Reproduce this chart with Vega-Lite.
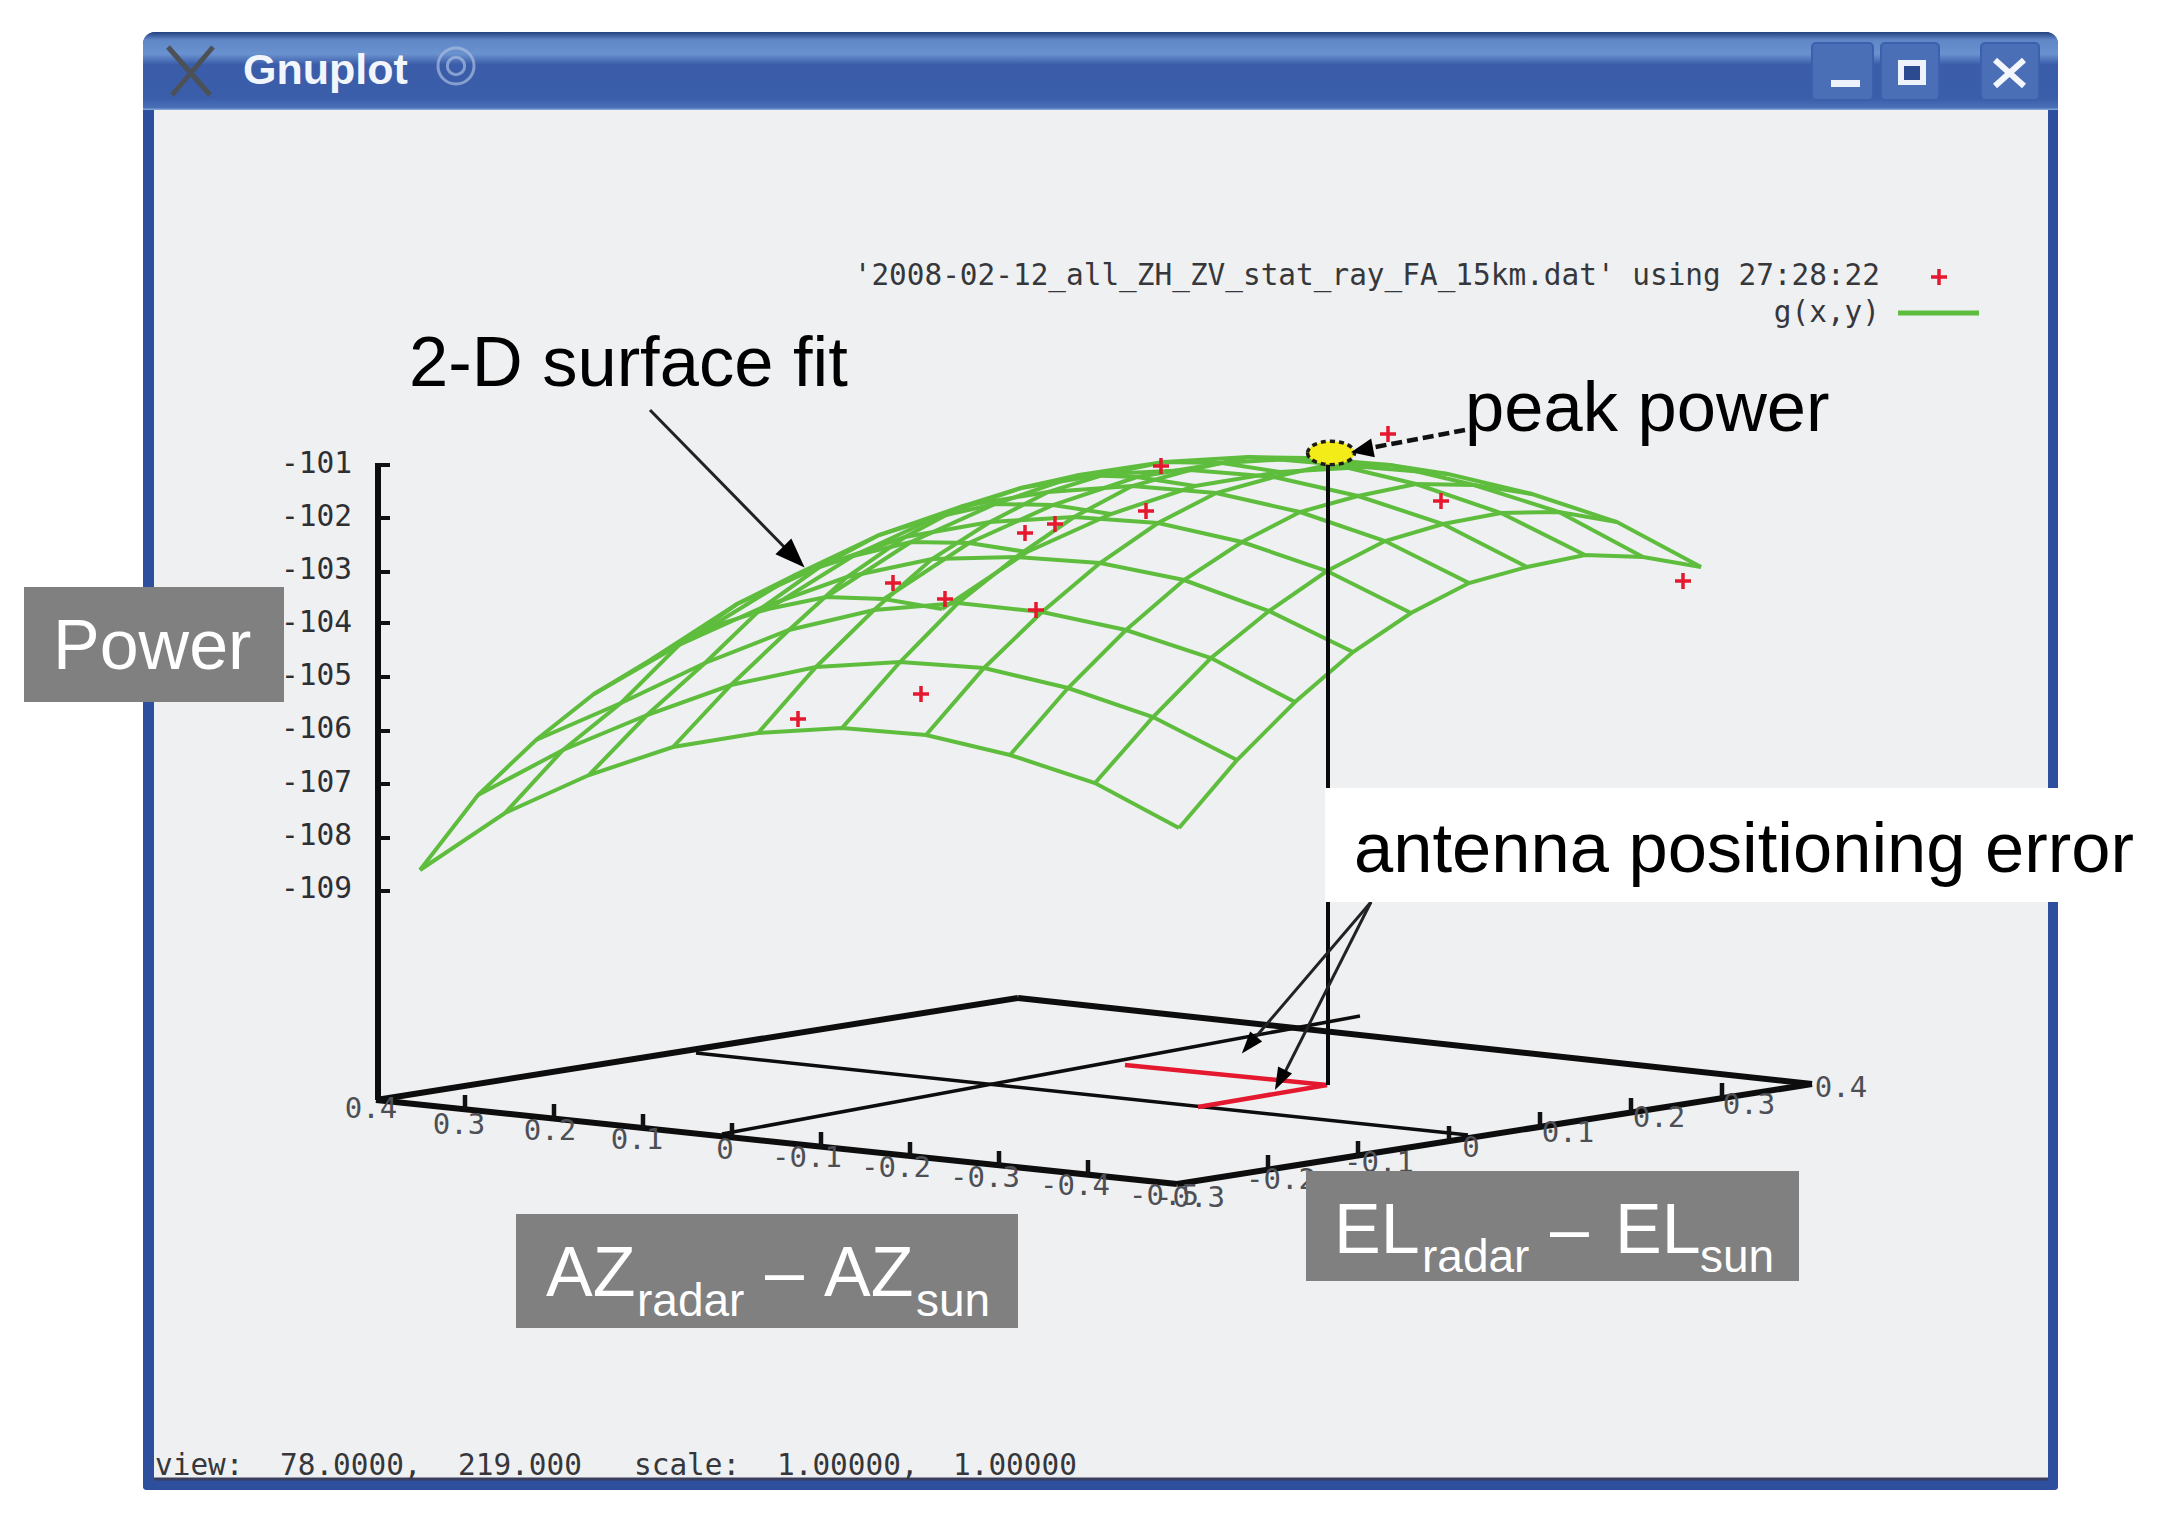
{"$schema":"https://vega.github.io/schema/vega-lite/v6.json","width":2160,"height":1520,"padding":0,"autosize":{"type":"fit","contains":"padding"},"background":"#ffffff","config":{"view":{"stroke":null}},
"encoding":{"x":{"field":"x","type":"quantitative","scale":{"domain":[0,216],"nice":false,"zero":false},"axis":null},"y":{"field":"y","type":"quantitative","scale":{"domain":[152,0],"nice":false,"zero":false},"axis":null}},
"layer":[
{"data":{"values":[{"x":14.3,"x2":205.8,"y":3.2,"y2":149}]},"mark":{"type":"rect","color":"#2e4f9d","cornerRadiusTopLeft":12,"cornerRadiusTopRight":12,"cornerRadius":3},"encoding":{"x2":{"field":"x2"},"y2":{"field":"y2"}}},
{"data":{"values":[{"x":15.4,"x2":204.8,"y":11,"y2":147.9}]},"mark":{"type":"rect","color":"#eff0f2"},"encoding":{"x2":{"field":"x2"},"y2":{"field":"y2"}}},
{"data":{"values":[{"x":14.3,"x2":205.8,"y":3.2,"y2":11}]},"mark":{"type":"rect","cornerRadiusTopLeft":12,"cornerRadiusTopRight":12,"color":{"gradient":"linear","x1":0,"y1":0,"x2":0,"y2":1,"stops":[{"offset":0,"color":"#23407f"},{"offset":0.1,"color":"#5f86c6"},{"offset":0.28,"color":"#6a92cf"},{"offset":0.42,"color":"#3a5ca9"},{"offset":0.85,"color":"#3b5eab"},{"offset":0.97,"color":"#4a70b8"},{"offset":1,"color":"#8fb0dc"}]}},"encoding":{"x2":{"field":"x2"},"y2":{"field":"y2"}}},
{"data":{"values":[{"x":15.4,"x2":204.8,"y":147.9,"y2":147.9}]},"mark":{"type":"rule","color":"#3a3f5e","strokeWidth":3},"encoding":{"x2":{"field":"x2"},"y2":{"field":"y2"}}},
{"data":{"values":[{"x":181.2,"x2":187.3,"y":4.3,"y2":10},{"x":188.1,"x2":193.9,"y":4.3,"y2":10},{"x":198.1,"x2":203.9,"y":4.3,"y2":10}]},"mark":{"type":"rect","color":"#4a6fb6","stroke":"#3d60ac","strokeWidth":2,"cornerRadius":4},"encoding":{"x2":{"field":"x2"},"y2":{"field":"y2"}}},
{"data":{"values":[{"x":183.1,"x2":186,"y":8,"y2":8.7},{"x":189.8,"x2":192.6,"y":6,"y2":8.5}]},"mark":{"type":"rect","color":"#eef2fa"},"encoding":{"x2":{"field":"x2"},"y2":{"field":"y2"}}},
{"data":{"values":[{"x":190.4,"x2":192,"y":6.6,"y2":8}]},"mark":{"type":"rect","color":"#2c4a90"},"encoding":{"x2":{"field":"x2"},"y2":{"field":"y2"}}},
{"data":{"values":[{"x":199.5,"x2":202.4,"y":6,"y2":8.6},{"x":202.4,"x2":199.5,"y":6,"y2":8.6}]},"mark":{"type":"rule","color":"#f3f6fb","strokeWidth":6},"encoding":{"x2":{"field":"x2"},"y2":{"field":"y2"}}},
{"data":{"values":[{"x":16.8,"x2":21,"y":4.7,"y2":9.5},{"x":21.3,"x2":17.2,"y":4.7,"y2":9.5}]},"mark":{"type":"rule","color":"#4c5158","strokeWidth":5},"encoding":{"x2":{"field":"x2"},"y2":{"field":"y2"}}},
{"data":{"values":[{"x":45.6,"y":6.6}]},"mark":{"type":"point","shape":"circle","size":1300,"color":"#a9bde0","strokeWidth":3,"filled":false}},
{"data":{"values":[{"x":45.6,"y":6.6}]},"mark":{"type":"point","shape":"circle","size":300,"color":"#a9bde0","strokeWidth":3,"filled":false}},
{"data":{"values":[{"x":24.3,"y":8.4,"t":"Gnuplot"}]},"mark":{"type":"text","font":"Liberation Sans","fontWeight":"bold","fontSize":43,"align":"left","baseline":"alphabetic","color":"#f2f5fb"},"encoding":{"text":{"field":"t"}}},

{"data":{"values":[
{"i":0,"j":0,"x":117.9,"y":82.8},{"i":0,"j":1,"x":123.7,"y":76},{"i":0,"j":2,"x":129.5,"y":70.2},{"i":0,"j":3,"x":135.3,"y":65.2},{"i":0,"j":4,"x":141.1,"y":61.3},{"i":0,"j":5,"x":146.9,"y":58.3},{"i":0,"j":6,"x":152.7,"y":56.7},{"i":0,"j":7,"x":158.5,"y":55.5},{"i":0,"j":8,"x":164.3,"y":55.7},{"i":0,"j":9,"x":170.1,"y":56.7},
{"i":1,"j":0,"x":109.5,"y":78.3},{"i":1,"j":1,"x":115.3,"y":71.7},{"i":1,"j":2,"x":121.1,"y":65.8},{"i":1,"j":3,"x":126.9,"y":61.1},{"i":1,"j":4,"x":132.7,"y":57.1},{"i":1,"j":5,"x":138.5,"y":54.1},{"i":1,"j":6,"x":144.3,"y":52.4},{"i":1,"j":7,"x":150.1,"y":51.3},{"i":1,"j":8,"x":155.9,"y":51.2},{"i":1,"j":9,"x":161.7,"y":52.2},
{"i":2,"j":0,"x":101,"y":75.5},{"i":2,"j":1,"x":106.8,"y":68.8},{"i":2,"j":2,"x":112.6,"y":63},{"i":2,"j":3,"x":118.4,"y":58},{"i":2,"j":4,"x":124.2,"y":54.2},{"i":2,"j":5,"x":130,"y":51.2},{"i":2,"j":6,"x":135.8,"y":49.6},{"i":2,"j":7,"x":141.6,"y":48.4},{"i":2,"j":8,"x":147.4,"y":48.5},{"i":2,"j":9,"x":153.2,"y":49.4},
{"i":3,"j":0,"x":92.6,"y":73.5},{"i":3,"j":1,"x":98.4,"y":66.8},{"i":3,"j":2,"x":104.2,"y":61.2},{"i":3,"j":3,"x":110,"y":56.3},{"i":3,"j":4,"x":115.8,"y":52.3},{"i":3,"j":5,"x":121.6,"y":49.3},{"i":3,"j":6,"x":127.4,"y":47.7},{"i":3,"j":7,"x":133.2,"y":46.4},{"i":3,"j":8,"x":139,"y":46.5},{"i":3,"j":9,"x":144.8,"y":47.4},
{"i":4,"j":0,"x":84.2,"y":72.8},{"i":4,"j":1,"x":90,"y":66.2},{"i":4,"j":2,"x":95.8,"y":60.3},{"i":4,"j":3,"x":101.6,"y":55.7},{"i":4,"j":4,"x":107.4,"y":51.7},{"i":4,"j":5,"x":113.2,"y":48.6},{"i":4,"j":6,"x":119,"y":47},{"i":4,"j":7,"x":124.8,"y":45.7},{"i":4,"j":8,"x":130.6,"y":45.8},{"i":4,"j":9,"x":136.4,"y":46.7},
{"i":5,"j":0,"x":75.8,"y":73.3},{"i":5,"j":1,"x":81.6,"y":66.7},{"i":5,"j":2,"x":87.4,"y":61},{"i":5,"j":3,"x":93.2,"y":55.9},{"i":5,"j":4,"x":99,"y":52.2},{"i":5,"j":5,"x":104.8,"y":49.2},{"i":5,"j":6,"x":110.6,"y":47.4},{"i":5,"j":7,"x":116.4,"y":46.2},{"i":5,"j":8,"x":122.2,"y":46.3},{"i":5,"j":9,"x":128,"y":47.2},
{"i":6,"j":0,"x":67.3,"y":74.7},{"i":6,"j":1,"x":73.1,"y":68.5},{"i":6,"j":2,"x":78.9,"y":63},{"i":6,"j":3,"x":84.7,"y":57.7},{"i":6,"j":4,"x":90.5,"y":53.7},{"i":6,"j":5,"x":96.3,"y":50.6},{"i":6,"j":6,"x":102.1,"y":48.8},{"i":6,"j":7,"x":107.9,"y":47.5},{"i":6,"j":8,"x":113.7,"y":47.7},{"i":6,"j":9,"x":119.5,"y":48.6},
{"i":7,"j":0,"x":58.9,"y":77.5},{"i":7,"j":1,"x":64.7,"y":71.5},{"i":7,"j":2,"x":70.5,"y":66.3},{"i":7,"j":3,"x":76.3,"y":60.7},{"i":7,"j":4,"x":82.1,"y":56.6},{"i":7,"j":5,"x":87.9,"y":53.5},{"i":7,"j":6,"x":93.7,"y":51.7},{"i":7,"j":7,"x":99.5,"y":50.4},{"i":7,"j":8,"x":105.3,"y":50.5},{"i":7,"j":9,"x":111.1,"y":51.4},
{"i":8,"j":0,"x":50.5,"y":81.3},{"i":8,"j":1,"x":56.3,"y":75},{"i":8,"j":2,"x":62.1,"y":70.3},{"i":8,"j":3,"x":67.9,"y":64.5},{"i":8,"j":4,"x":73.7,"y":60.4},{"i":8,"j":5,"x":79.5,"y":57.5},{"i":8,"j":6,"x":85.3,"y":55.6},{"i":8,"j":7,"x":91.1,"y":54.2},{"i":8,"j":8,"x":96.9,"y":54.3},{"i":8,"j":9,"x":102.7,"y":55.2},
{"i":9,"j":0,"x":42,"y":87},{"i":9,"j":1,"x":47.8,"y":79.5},{"i":9,"j":2,"x":53.6,"y":74},{"i":9,"j":3,"x":59.4,"y":69.4},{"i":9,"j":4,"x":65.2,"y":65.9},{"i":9,"j":5,"x":71,"y":62.7},{"i":9,"j":6,"x":76.8,"y":60.9},{"i":9,"j":7,"x":82.6,"y":59.7},{"i":9,"j":8,"x":88.4,"y":59.9},{"i":9,"j":9,"x":94.2,"y":60.9}
]},"layer":[
{"mark":{"type":"line","color":"#5fbd3e","strokeWidth":4},"encoding":{"detail":{"field":"i"},"order":{"field":"j"}}},
{"mark":{"type":"line","color":"#5fbd3e","strokeWidth":4},"encoding":{"detail":{"field":"j"},"order":{"field":"i"}}}
]},

{"data":{"values":[{"x":79.8,"y":71.9},{"x":92.1,"y":69.4},{"x":89.3,"y":58.3},{"x":94.5,"y":59.9},{"x":103.6,"y":61},{"x":102.5,"y":53.3},{"x":105.5,"y":52.4},{"x":114.6,"y":51.1},{"x":116.1,"y":46.6},{"x":138.8,"y":43.4},{"x":144.1,"y":50.1},{"x":168.3,"y":58.1},{"x":193.9,"y":27.7}]},"mark":{"type":"point","shape":"M-1,0H1M0,-1V1","size":256,"filled":false,"color":"#e4182e","strokeWidth":3.5,"opacity":1}},
{"data":{"values":[{"x":189.8,"x2":197.9,"y":31.3,"y2":31.3}]},"mark":{"type":"rule","color":"#5fbd3e","strokeWidth":5},"encoding":{"x2":{"field":"x2"},"y2":{"field":"y2"}}},

{"data":{"values":[{"x":37.6,"x2":101.8,"y":110,"y2":99.8},{"x":101.8,"x2":181.2,"y":99.8,"y2":108.4},{"x":37.6,"x2":117.7,"y":110,"y2":118.4},{"x":117.7,"x2":181.2,"y":118.4,"y2":108.4},{"x":37.8,"x2":37.8,"y":46.3,"y2":110}]},"mark":{"type":"rule","color":"#0d0d0d","strokeWidth":6},"encoding":{"x2":{"field":"x2"},"y2":{"field":"y2"}}},
{"data":{"values":[{"x":69.6,"x2":146.8,"y":105.3,"y2":113.5},{"x":72.2,"x2":136,"y":113.4,"y2":101.6}]},"mark":{"type":"rule","color":"#0d0d0d","strokeWidth":3.5},"encoding":{"x2":{"field":"x2"},"y2":{"field":"y2"}}},
{"data":{"values":[{"x":132.7,"x2":112.5,"y":108.5,"y2":106.5},{"x":132.7,"x2":119.8,"y":108.5,"y2":110.7}]},"mark":{"type":"rule","color":"#e4182e","strokeWidth":4.5},"encoding":{"x2":{"field":"x2"},"y2":{"field":"y2"}}},
{"data":{"values":[{"x":37.8,"x2":39,"y":46.5,"y2":46.5},{"x":37.8,"x2":39,"y":51.8,"y2":51.8},{"x":37.8,"x2":39,"y":57.2,"y2":57.2},{"x":37.8,"x2":39,"y":62.3,"y2":62.3},{"x":37.8,"x2":39,"y":67.7,"y2":67.7},{"x":37.8,"x2":39,"y":73.1,"y2":73.1},{"x":37.8,"x2":39,"y":78.4,"y2":78.4},{"x":37.8,"x2":39,"y":83.8,"y2":83.8},{"x":37.8,"x2":39,"y":89.1,"y2":89.1}]},"mark":{"type":"rule","color":"#111111","strokeWidth":4},"encoding":{"x2":{"field":"x2"},"y2":{"field":"y2"}}},
{"data":{"values":[{"x":46.5,"y":111,"y2":109.5},{"x":55.4,"y":111.9,"y2":110.4},{"x":64.3,"y":112.9,"y2":111.4},{"x":73.2,"y":113.8,"y2":112.3},{"x":82.1,"y":114.7,"y2":113.2},{"x":91,"y":115.7,"y2":114.2},{"x":99.9,"y":116.6,"y2":115.1},{"x":108.8,"y":117.5,"y2":116},{"x":126.8,"y":117,"y2":115.5},{"x":135.8,"y":115.6,"y2":114.1},{"x":144.9,"y":114.1,"y2":112.6},{"x":154,"y":112.7,"y2":111.2},{"x":163.1,"y":111.3,"y2":109.8},{"x":172.2,"y":109.8,"y2":108.3}]},"mark":{"type":"rule","color":"#111111","strokeWidth":4.5},"encoding":{"y2":{"field":"y2"}}},

{"data":{"values":[{"x":37.1,"y":111.8,"t":"0.4"},{"x":45.9,"y":113.4,"t":"0.3"},{"x":55,"y":114,"t":"0.2"},{"x":63.7,"y":114.9,"t":"0.1"},{"x":72.5,"y":115.9,"t":"0"},{"x":80.7,"y":116.7,"t":"-0.1"},{"x":89.6,"y":117.7,"t":"-0.2"},{"x":98.5,"y":118.7,"t":"-0.3"},{"x":107.5,"y":119.5,"t":"-0.4"},{"x":116.4,"y":120.5,"t":"-0.5"},{"x":119,"y":120.7,"t":"-0.3"},{"x":128.1,"y":118.9,"t":"-0.2"},{"x":137.9,"y":117.2,"t":"-0.1"},{"x":147.1,"y":115.7,"t":"0"},{"x":156.8,"y":114.2,"t":"0.1"},{"x":165.9,"y":112.7,"t":"0.2"},{"x":174.9,"y":111.4,"t":"0.3"},{"x":184.1,"y":109.7,"t":"0.4"}]},"mark":{"type":"text","font":"DejaVu Sans Mono","fontSize":29,"align":"center","baseline":"alphabetic","color":"#4d4f55"},"encoding":{"text":{"field":"t"}}},
{"data":{"values":[{"x":35.2,"y":47.3,"t":"-101"},{"x":35.2,"y":52.6,"t":"-102"},{"x":35.2,"y":57.9,"t":"-103"},{"x":35.2,"y":63.2,"t":"-104"},{"x":35.2,"y":68.5,"t":"-105"},{"x":35.2,"y":73.8,"t":"-106"},{"x":35.2,"y":79.2,"t":"-107"},{"x":35.2,"y":84.5,"t":"-108"},{"x":35.2,"y":89.8,"t":"-109"}]},"mark":{"type":"text","font":"DejaVu Sans Mono","fontSize":29.5,"align":"right","baseline":"alphabetic","color":"#2e2f33"},"encoding":{"text":{"field":"t"}}},

{"data":{"values":[{"x":132.8,"x2":132.8,"y":46,"y2":108.5}]},"mark":{"type":"rule","color":"#0a0a0a","strokeWidth":4},"encoding":{"x2":{"field":"x2"},"y2":{"field":"y2"}}},
{"data":{"values":[{"x":133.1,"y":45.3}]},"mark":{"type":"point","shape":"M-1,0A1,0.5 0 1 0 1,0A1,0.5 0 1 0 -1,0Z","size":2200,"filled":true,"fill":"#f4ec19","stroke":"#1d1d14","strokeWidth":3.5,"strokeDash":[5,4],"opacity":1}},

{"data":{"values":[{"x":65,"x2":79.5,"y":41,"y2":55.8},{"x":137.1,"x2":124.8,"y":90.2,"y2":104.6},{"x":137.1,"x2":128,"y":90.2,"y2":108.2}]},"mark":{"type":"rule","color":"#222222","strokeWidth":3},"encoding":{"x2":{"field":"x2"},"y2":{"field":"y2"}}},
{"data":{"values":[{"x":146.5,"x2":137,"y":43,"y2":44.8}]},"mark":{"type":"rule","color":"#111111","strokeWidth":4.5,"strokeDash":[11,5]},"encoding":{"x2":{"field":"x2"},"y2":{"field":"y2"}}},
{"data":{"values":[{"x":79.4,"y":55.7}]},"mark":{"type":"point","shape":"M0,-1L0.75,1L-0.75,1Z","size":900,"filled":true,"color":"#000000","opacity":1,"angle":135}},
{"data":{"values":[{"x":136.2,"y":45}]},"mark":{"type":"point","shape":"M0,-1L0.85,1L-0.85,1Z","size":500,"filled":true,"color":"#000000","opacity":1,"angle":259}},
{"data":{"values":[{"x":124.9,"y":104.5}]},"mark":{"type":"point","shape":"M0,-1L0.7,1L-0.7,1Z","size":500,"filled":true,"color":"#000000","opacity":1,"angle":220}},
{"data":{"values":[{"x":128,"y":108}]},"mark":{"type":"point","shape":"M0,-1L0.7,1L-0.7,1Z","size":500,"filled":true,"color":"#000000","opacity":1,"angle":207}},

{"data":{"values":[{"x":132.5,"x2":216,"y":78.8,"y2":90.2}]},"mark":{"type":"rect","color":"#ffffff"},"encoding":{"x2":{"field":"x2"},"y2":{"field":"y2"}}},
{"data":{"values":[{"x":2.4,"x2":28.4,"y":58.7,"y2":70.2},{"x":51.6,"x2":101.8,"y":121.4,"y2":132.8},{"x":130.6,"x2":179.9,"y":117.1,"y2":128.1}]},"mark":{"type":"rect","color":"#808080"},"encoding":{"x2":{"field":"x2"},"y2":{"field":"y2"}}},

{"data":{"values":[{"x":188,"y":28.5,"t":"'2008-02-12_all_ZH_ZV_stat_ray_FA_15km.dat' using 27:28:22"},{"x":188,"y":32.2,"t":"g(x,y)"}]},"mark":{"type":"text","font":"DejaVu Sans Mono","fontSize":29.4,"align":"right","baseline":"alphabetic","color":"#36373b"},"encoding":{"text":{"field":"t"}}},
{"data":{"values":[{"x":15.5,"y":147.5,"t":"view:"},{"x":28,"y":147.5,"t":"78.0000,"},{"x":45.8,"y":147.5,"t":"219.000"},{"x":63.4,"y":147.5,"t":"scale:"},{"x":77.7,"y":147.5,"t":"1.00000,"},{"x":95.3,"y":147.5,"t":"1.00000"}]},"mark":{"type":"text","font":"DejaVu Sans Mono","fontSize":29.4,"align":"left","baseline":"alphabetic","color":"#36373b"},"encoding":{"text":{"field":"t"}}},
{"data":{"values":[{"x":40.9,"y":38.6,"t":"2-D surface fit"},{"x":146.5,"y":43.1,"t":"peak power"},{"x":135.4,"y":87.2,"t":"antenna positioning error"}]},"mark":{"type":"text","font":"Liberation Sans","fontSize":70.5,"align":"left","baseline":"alphabetic","color":"#000000"},"encoding":{"text":{"field":"t"}}},
{"data":{"values":[{"x":5.3,"y":66.9,"t":"Power"},{"x":54.6,"y":129.6,"t":"AZ"},{"x":82.4,"y":129.6,"t":"AZ"},{"x":133.4,"y":125.3,"t":"EL"},{"x":161.5,"y":125.3,"t":"EL"},{"x":76.5,"y":129.6,"t":"–"},{"x":155,"y":125.3,"t":"–"}]},"mark":{"type":"text","font":"Liberation Sans","fontSize":70,"align":"left","baseline":"alphabetic","color":"#ffffff"},"encoding":{"text":{"field":"t"}}},
{"data":{"values":[{"x":63.7,"y":131.6,"t":"radar"},{"x":91.6,"y":131.6,"t":"sun"},{"x":142.2,"y":127.2,"t":"radar"},{"x":170,"y":127.2,"t":"sun"}]},"mark":{"type":"text","font":"Liberation Sans","fontSize":46,"align":"left","baseline":"alphabetic","color":"#ffffff"},"encoding":{"text":{"field":"t"}}}
]}
